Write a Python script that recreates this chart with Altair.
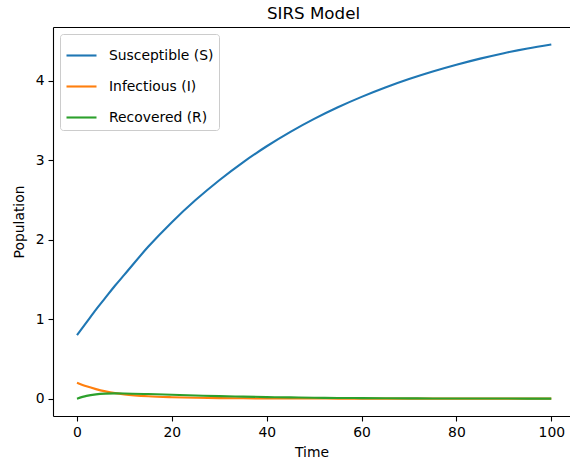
import altair as alt
import pandas as pd

# Time grid
t = [0, 2, 4, 6, 8, 10, 15, 20, 25, 30, 35, 40, 45, 50, 55, 60, 65, 70, 75, 80, 85, 90, 95, 100]
# Susceptible
S = [0.80, 0.96, 1.12, 1.27, 1.42, 1.56, 1.91, 2.22, 2.498, 2.748, 2.973, 3.175, 3.356, 3.519,
     3.665, 3.796, 3.914, 4.020, 4.115, 4.200, 4.277, 4.346, 4.405, 4.455]
# Infectious
I = [0.200, 0.155, 0.120, 0.092, 0.070, 0.054, 0.030, 0.018, 0.011, 0.007, 0.005, 0.003,
     0.002, 0.0015, 0.001, 0.0008, 0.0006, 0.0005, 0.0004, 0.0003, 0.0003, 0.0002, 0.0002, 0.0002]
# Recovered
R = [0.000, 0.035, 0.054, 0.063, 0.066, 0.065, 0.058, 0.049, 0.040, 0.032, 0.026, 0.020,
     0.016, 0.012, 0.009, 0.007, 0.005, 0.004, 0.003, 0.0025, 0.002, 0.0015, 0.001, 0.001]

names = ["Susceptible (S)", "Infectious (I)", "Recovered (R)"]
colors = ["#1f77b4", "#ff7f0e", "#2ca02c"]
x_ticks = [0, 20, 40, 60, 80, 100]
y_ticks = [0, 1, 2, 3, 4]

rows = []
for name, vals in zip(names, [S, I, R]):
    for tt, v in zip(t, vals):
        rows.append({"Time": tt, "Population": v, "Series": name})
df = pd.DataFrame(rows)

FONT = "DejaVu Sans"
x_scale = alt.Scale(domain=[-5.06, 103.94], nice=False, zero=False)
y_scale = alt.Scale(domain=[-0.218, 4.675], nice=False, zero=False)

axis_common = dict(
    grid=False, domainColor="black", domainWidth=1.1, tickColor="black", tickWidth=1.1,
    tickSize=5, labelPadding=4, labelFontSize=13.9, labelColor="black", labelFont=FONT,
    titleFontSize=13.9, titleFontWeight="normal", titleColor="black", titleFont=FONT,
)

lines = alt.Chart(df).mark_line(strokeWidth=2.1, interpolate="monotone", clip=True).encode(
    x=alt.X("Time:Q", scale=x_scale,
            axis=alt.Axis(values=x_ticks, title="Time", titlePadding=7, labelFlush=False, **axis_common)),
    y=alt.Y("Population:Q", scale=y_scale,
            axis=alt.Axis(values=y_ticks, title="Population", titlePadding=9, labelFlush=False, **axis_common)),
    color=alt.Color("Series:N", scale=alt.Scale(domain=names, range=colors),
                    legend=alt.Legend(title=None, orient="top-left", offset=7, padding=5,
                                      fillColor="white", strokeColor="#cccccc", cornerRadius=3,
                                      symbolType="stroke", symbolSize=900, symbolStrokeWidth=2.1,
                                      labelFontSize=13.9, labelFont=FONT, labelColor="black",
                                      labelOffset=11, rowPadding=7)),
)

top_spine = alt.Chart(df).mark_rule(opacity=0).encode(
    x=alt.X("Time:Q", scale=x_scale,
            axis=alt.Axis(orient="top", labels=False, ticks=False, title="", grid=False,
                          domainColor="black", domainWidth=1.1)),
)

chart = alt.layer(lines, top_spine).resolve_axis(x="independent").properties(
    width=517, height=389,
    autosize=alt.AutoSizeParams(type="none"),
    padding={"left": 53, "top": 27, "right": 0, "bottom": 52},
    title=alt.Title("SIRS Model", fontSize=16.7, fontWeight="normal", font=FONT, color="black",
                    anchor="middle", baseline="alphabetic", offset=-9, dx=2),
    background="white",
).configure_view(stroke=None)

chart.save("out.html", embed_options={"renderer": "svg", "actions": False})
